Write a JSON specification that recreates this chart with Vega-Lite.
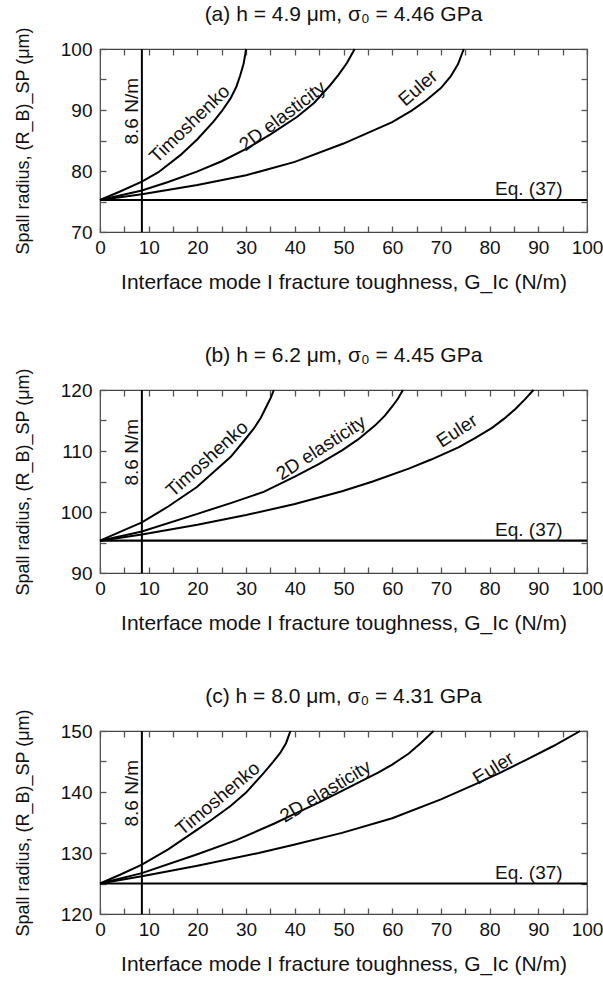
{
"$schema":"https://vega.github.io/schema/vega-lite/v6.json",
"padding":{"left":13,"top":3,"right":5,"bottom":5},
"datasets":{
"curves":[
{"panel":"a","model":"T","g":0,"r":75.25},{"panel":"a","model":"T","g":4,"r":76.6},{"panel":"a","model":"T","g":8.6,"r":78.25},{"panel":"a","model":"T","g":12,"r":79.8},{"panel":"a","model":"T","g":16.5,"r":82.6},{"panel":"a","model":"T","g":20,"r":85.2},{"panel":"a","model":"T","g":23.3,"r":88.1},{"panel":"a","model":"T","g":25,"r":89.8},{"panel":"a","model":"T","g":26.8,"r":91.9},{"panel":"a","model":"T","g":28,"r":93.8},{"panel":"a","model":"T","g":28.8,"r":95.7},{"panel":"a","model":"T","g":29.5,"r":97.6},{"panel":"a","model":"T","g":30,"r":100},
{"panel":"a","model":"D","g":0,"r":75.25},{"panel":"a","model":"D","g":8.6,"r":76.8},{"panel":"a","model":"D","g":14,"r":78.2},{"panel":"a","model":"D","g":19.9,"r":79.9},{"panel":"a","model":"D","g":25,"r":81.6},{"panel":"a","model":"D","g":30.2,"r":83.7},{"panel":"a","model":"D","g":35,"r":86.0},{"panel":"a","model":"D","g":40.5,"r":88.9},{"panel":"a","model":"D","g":44,"r":91.2},{"panel":"a","model":"D","g":47.3,"r":94.1},{"panel":"a","model":"D","g":49,"r":95.8},{"panel":"a","model":"D","g":50.7,"r":97.7},{"panel":"a","model":"D","g":52.3,"r":100},
{"panel":"a","model":"E","g":0,"r":75.25},{"panel":"a","model":"E","g":8.6,"r":76.2},{"panel":"a","model":"E","g":20,"r":77.7},{"panel":"a","model":"E","g":30,"r":79.3},{"panel":"a","model":"E","g":40,"r":81.5},{"panel":"a","model":"E","g":50,"r":84.5},{"panel":"a","model":"E","g":60,"r":88.0},{"panel":"a","model":"E","g":64,"r":89.9},{"panel":"a","model":"E","g":67,"r":91.6},{"panel":"a","model":"E","g":70,"r":93.6},{"panel":"a","model":"E","g":72,"r":95.5},{"panel":"a","model":"E","g":73.5,"r":97.5},{"panel":"a","model":"E","g":74.7,"r":100},
{"panel":"b","model":"T","g":0,"r":95.3},{"panel":"b","model":"T","g":4,"r":96.7},{"panel":"b","model":"T","g":8.6,"r":98.3},{"panel":"b","model":"T","g":14,"r":100.9},{"panel":"b","model":"T","g":19.9,"r":104.1},{"panel":"b","model":"T","g":23,"r":106.3},{"panel":"b","model":"T","g":26.8,"r":109.0},{"panel":"b","model":"T","g":29.5,"r":111.6},{"panel":"b","model":"T","g":31.6,"r":113.7},{"panel":"b","model":"T","g":33,"r":115.4},{"panel":"b","model":"T","g":34.3,"r":117.5},{"panel":"b","model":"T","g":35.1,"r":118.8},{"panel":"b","model":"T","g":35.7,"r":120},
{"panel":"b","model":"D","g":0,"r":95.3},{"panel":"b","model":"D","g":8.6,"r":96.8},{"panel":"b","model":"D","g":20,"r":99.7},{"panel":"b","model":"D","g":27,"r":101.5},{"panel":"b","model":"D","g":33.6,"r":103.3},{"panel":"b","model":"D","g":40,"r":105.8},{"panel":"b","model":"D","g":45,"r":107.9},{"panel":"b","model":"D","g":49.7,"r":110.1},{"panel":"b","model":"D","g":53,"r":111.9},{"panel":"b","model":"D","g":56.5,"r":114.2},{"panel":"b","model":"D","g":58.5,"r":115.8},{"panel":"b","model":"D","g":60,"r":117.3},{"panel":"b","model":"D","g":61.2,"r":118.6},{"panel":"b","model":"D","g":62.2,"r":120},
{"panel":"b","model":"E","g":0,"r":95.3},{"panel":"b","model":"E","g":8.6,"r":96.3},{"panel":"b","model":"E","g":20,"r":97.9},{"panel":"b","model":"E","g":30,"r":99.5},{"panel":"b","model":"E","g":40,"r":101.3},{"panel":"b","model":"E","g":49.7,"r":103.4},{"panel":"b","model":"E","g":56,"r":105.0},{"panel":"b","model":"E","g":63.4,"r":107.1},{"panel":"b","model":"E","g":68,"r":108.6},{"panel":"b","model":"E","g":73.6,"r":110.6},{"panel":"b","model":"E","g":77,"r":112.1},{"panel":"b","model":"E","g":80.5,"r":113.8},{"panel":"b","model":"E","g":83,"r":115.3},{"panel":"b","model":"E","g":85.3,"r":116.9},{"panel":"b","model":"E","g":87.3,"r":118.5},{"panel":"b","model":"E","g":89,"r":120},
{"panel":"c","model":"T","g":0,"r":125},{"panel":"c","model":"T","g":4,"r":126.4},{"panel":"c","model":"T","g":8.6,"r":128.1},{"panel":"c","model":"T","g":14,"r":130.6},{"panel":"c","model":"T","g":19.9,"r":133.8},{"panel":"c","model":"T","g":23,"r":135.5},{"panel":"c","model":"T","g":26.8,"r":137.7},{"panel":"c","model":"T","g":30,"r":139.9},{"panel":"c","model":"T","g":33.6,"r":143.1},{"panel":"c","model":"T","g":35.5,"r":144.9},{"panel":"c","model":"T","g":37,"r":146.4},{"panel":"c","model":"T","g":38.2,"r":148.0},{"panel":"c","model":"T","g":39.1,"r":150},
{"panel":"c","model":"D","g":0,"r":125},{"panel":"c","model":"D","g":8.6,"r":126.7},{"panel":"c","model":"D","g":20,"r":129.8},{"panel":"c","model":"D","g":28,"r":132.1},{"panel":"c","model":"D","g":35.7,"r":134.8},{"panel":"c","model":"D","g":39.4,"r":136.2},{"panel":"c","model":"D","g":45,"r":138.3},{"panel":"c","model":"D","g":50,"r":140.3},{"panel":"c","model":"D","g":57.2,"r":143.2},{"panel":"c","model":"D","g":60,"r":144.5},{"panel":"c","model":"D","g":63.4,"r":146.3},{"panel":"c","model":"D","g":66,"r":148.1},{"panel":"c","model":"D","g":68.5,"r":150},
{"panel":"c","model":"E","g":0,"r":125},{"panel":"c","model":"E","g":8.6,"r":126.2},{"panel":"c","model":"E","g":20,"r":127.9},{"panel":"c","model":"E","g":32.6,"r":130.0},{"panel":"c","model":"E","g":40,"r":131.4},{"panel":"c","model":"E","g":49.7,"r":133.3},{"panel":"c","model":"E","g":60,"r":135.7},{"panel":"c","model":"E","g":70,"r":138.8},{"panel":"c","model":"E","g":77.1,"r":141.3},{"panel":"c","model":"E","g":82,"r":143.1},{"panel":"c","model":"E","g":87.3,"r":145.2},{"panel":"c","model":"E","g":93,"r":147.5},{"panel":"c","model":"E","g":98.6,"r":150}
],
"refs":[{"panel":"a","g":8.6,"r":75.25},{"panel":"b","g":8.6,"r":95.3},{"panel":"c","g":8.6,"r":125.0}],
"labels":[
{"panel":"a","label":"Timoshenko","g":18.4,"r":87.7},{"panel":"a","label":"2D elasticity","g":37.5,"r":89.0},{"panel":"a","label":"Euler","g":65.3,"r":93.6},{"panel":"a","label":"Eq. (37)","g":95,"r":75.25},{"panel":"a","label":"8.6 N/m","g":8.6,"r":89.8},
{"panel":"b","label":"Timoshenko","g":22.0,"r":108.7},{"panel":"b","label":"2D elasticity","g":45.4,"r":110.5},{"panel":"b","label":"Euler","g":73.3,"r":113.3},{"panel":"b","label":"Eq. (37)","g":95,"r":95.3},{"panel":"b","label":"8.6 N/m","g":8.6,"r":109.8},
{"panel":"c","label":"Timoshenko","g":24.2,"r":138.9},{"panel":"c","label":"2D elasticity","g":46.3,"r":140.1},{"panel":"c","label":"Euler","g":80.8,"r":143.9},{"panel":"c","label":"Eq. (37)","g":95,"r":125.0},{"panel":"c","label":"8.6 N/m","g":8.6,"r":139.8}
]
},
"vconcat":[
{"width":487,"height":183,"title":"(a) h = 4.9 μm, σ₀ = 4.46 GPa",
"resolve":{"axis":{"x":"independent","y":"independent"}},
"layer":[
{"data":{"name":"curves"},"transform":[{"filter":"datum.panel==='a'"}],"mark":{"type":"line","color":"black","strokeWidth":2},
"encoding":{"x":{"field":"g","type":"quantitative","scale":{"domain":[0,100],"nice":false,"zero":false},"axis":{"orient":"bottom","values":[0,5,10,15,20,25,30,35,40,45,50,55,60,65,70,75,80,85,90,95,100],"labelExpr":"datum.value % 10 === 0 ? datum.label : ''","title":"Interface mode I fracture toughness, G_Ic (N/m)"}},
"y":{"field":"r","type":"quantitative","scale":{"domain":[70,100],"nice":false,"zero":false},"axis":{"orient":"left","values":[70,75,80,85,90,95,100],"labelExpr":"datum.value % 10 === 0 ? datum.label : ''","title":"Spall radius, (R_B)_SP (μm)"}},
"detail":{"field":"model"}}},
{"data":{"name":"refs"},"transform":[{"filter":"datum.panel==='a'"}],"mark":{"type":"rule","color":"black","strokeWidth":2},
"encoding":{"x":{"field":"g","type":"quantitative","scale":{"domain":[0,100],"nice":false,"zero":false},"axis":{"orient":"top","values":[0,5,10,15,20,25,30,35,40,45,50,55,60,65,70,75,80,85,90,95,100],"labels":false,"title":null}}}},
{"data":{"name":"refs"},"transform":[{"filter":"datum.panel==='a'"}],"mark":{"type":"rule","color":"black","strokeWidth":2.2},
"encoding":{"y":{"field":"r","type":"quantitative","scale":{"domain":[70,100],"nice":false,"zero":false},"axis":{"orient":"right","values":[70,75,80,85,90,95,100],"labels":false,"title":null}}}},
{"data":{"name":"labels"},"transform":[{"filter":"datum.panel==='a' && datum.label==='Timoshenko'"}],"mark":{"type":"text","angle":316,"align":"center","baseline":"middle"},
"encoding":{"x":{"field":"g","type":"quantitative","scale":{"domain":[0,100],"nice":false,"zero":false},"axis":null},"y":{"field":"r","type":"quantitative","scale":{"domain":[70,100],"nice":false,"zero":false},"axis":null},"text":{"field":"label"}}},
{"data":{"name":"labels"},"transform":[{"filter":"datum.panel==='a' && datum.label==='2D elasticity'"}],"mark":{"type":"text","angle":323,"align":"center","baseline":"middle"},
"encoding":{"x":{"field":"g","type":"quantitative","scale":{"domain":[0,100],"nice":false,"zero":false},"axis":null},"y":{"field":"r","type":"quantitative","scale":{"domain":[70,100],"nice":false,"zero":false},"axis":null},"text":{"field":"label"}}},
{"data":{"name":"labels"},"transform":[{"filter":"datum.panel==='a' && datum.label==='Euler'"}],"mark":{"type":"text","angle":319,"align":"center","baseline":"middle"},
"encoding":{"x":{"field":"g","type":"quantitative","scale":{"domain":[0,100],"nice":false,"zero":false},"axis":null},"y":{"field":"r","type":"quantitative","scale":{"domain":[70,100],"nice":false,"zero":false},"axis":null},"text":{"field":"label"}}},
{"data":{"name":"labels"},"transform":[{"filter":"datum.panel==='a' && datum.label==='Eq. (37)'"}],"mark":{"type":"text","align":"right","baseline":"alphabetic","dy":-5},
"encoding":{"x":{"field":"g","type":"quantitative","scale":{"domain":[0,100],"nice":false,"zero":false},"axis":null},"y":{"field":"r","type":"quantitative","scale":{"domain":[70,100],"nice":false,"zero":false},"axis":null},"text":{"field":"label"}}},
{"data":{"name":"labels"},"transform":[{"filter":"datum.panel==='a' && datum.label==='8.6 N/m'"}],"mark":{"type":"text","angle":270,"align":"center","baseline":"alphabetic","dy":-4},
"encoding":{"x":{"field":"g","type":"quantitative","scale":{"domain":[0,100],"nice":false,"zero":false},"axis":null},"y":{"field":"r","type":"quantitative","scale":{"domain":[70,100],"nice":false,"zero":false},"axis":null},"text":{"field":"label"}}}
]},
{"width":487,"height":183,"title":"(b) h = 6.2 μm, σ₀ = 4.45 GPa",
"resolve":{"axis":{"x":"independent","y":"independent"}},
"layer":[
{"data":{"name":"curves"},"transform":[{"filter":"datum.panel==='b'"}],"mark":{"type":"line","color":"black","strokeWidth":2},
"encoding":{"x":{"field":"g","type":"quantitative","scale":{"domain":[0,100],"nice":false,"zero":false},"axis":{"orient":"bottom","values":[0,5,10,15,20,25,30,35,40,45,50,55,60,65,70,75,80,85,90,95,100],"labelExpr":"datum.value % 10 === 0 ? datum.label : ''","title":"Interface mode I fracture toughness, G_Ic (N/m)"}},
"y":{"field":"r","type":"quantitative","scale":{"domain":[90,120],"nice":false,"zero":false},"axis":{"orient":"left","values":[90,95,100,105,110,115,120],"labelExpr":"datum.value % 10 === 0 ? datum.label : ''","title":"Spall radius, (R_B)_SP (μm)"}},
"detail":{"field":"model"}}},
{"data":{"name":"refs"},"transform":[{"filter":"datum.panel==='b'"}],"mark":{"type":"rule","color":"black","strokeWidth":2},
"encoding":{"x":{"field":"g","type":"quantitative","scale":{"domain":[0,100],"nice":false,"zero":false},"axis":{"orient":"top","values":[0,5,10,15,20,25,30,35,40,45,50,55,60,65,70,75,80,85,90,95,100],"labels":false,"title":null}}}},
{"data":{"name":"refs"},"transform":[{"filter":"datum.panel==='b'"}],"mark":{"type":"rule","color":"black","strokeWidth":2.2},
"encoding":{"y":{"field":"r","type":"quantitative","scale":{"domain":[90,120],"nice":false,"zero":false},"axis":{"orient":"right","values":[90,95,100,105,110,115,120],"labels":false,"title":null}}}},
{"data":{"name":"labels"},"transform":[{"filter":"datum.panel==='b' && datum.label==='Timoshenko'"}],"mark":{"type":"text","angle":318,"align":"center","baseline":"middle"},
"encoding":{"x":{"field":"g","type":"quantitative","scale":{"domain":[0,100],"nice":false,"zero":false},"axis":null},"y":{"field":"r","type":"quantitative","scale":{"domain":[90,120],"nice":false,"zero":false},"axis":null},"text":{"field":"label"}}},
{"data":{"name":"labels"},"transform":[{"filter":"datum.panel==='b' && datum.label==='2D elasticity'"}],"mark":{"type":"text","angle":327,"align":"center","baseline":"middle"},
"encoding":{"x":{"field":"g","type":"quantitative","scale":{"domain":[0,100],"nice":false,"zero":false},"axis":null},"y":{"field":"r","type":"quantitative","scale":{"domain":[90,120],"nice":false,"zero":false},"axis":null},"text":{"field":"label"}}},
{"data":{"name":"labels"},"transform":[{"filter":"datum.panel==='b' && datum.label==='Euler'"}],"mark":{"type":"text","angle":327,"align":"center","baseline":"middle"},
"encoding":{"x":{"field":"g","type":"quantitative","scale":{"domain":[0,100],"nice":false,"zero":false},"axis":null},"y":{"field":"r","type":"quantitative","scale":{"domain":[90,120],"nice":false,"zero":false},"axis":null},"text":{"field":"label"}}},
{"data":{"name":"labels"},"transform":[{"filter":"datum.panel==='b' && datum.label==='Eq. (37)'"}],"mark":{"type":"text","align":"right","baseline":"alphabetic","dy":-5},
"encoding":{"x":{"field":"g","type":"quantitative","scale":{"domain":[0,100],"nice":false,"zero":false},"axis":null},"y":{"field":"r","type":"quantitative","scale":{"domain":[90,120],"nice":false,"zero":false},"axis":null},"text":{"field":"label"}}},
{"data":{"name":"labels"},"transform":[{"filter":"datum.panel==='b' && datum.label==='8.6 N/m'"}],"mark":{"type":"text","angle":270,"align":"center","baseline":"alphabetic","dy":-4},
"encoding":{"x":{"field":"g","type":"quantitative","scale":{"domain":[0,100],"nice":false,"zero":false},"axis":null},"y":{"field":"r","type":"quantitative","scale":{"domain":[90,120],"nice":false,"zero":false},"axis":null},"text":{"field":"label"}}}
]},
{"width":487,"height":183,"title":"(c) h = 8.0 μm, σ₀ = 4.31 GPa",
"resolve":{"axis":{"x":"independent","y":"independent"}},
"layer":[
{"data":{"name":"curves"},"transform":[{"filter":"datum.panel==='c'"}],"mark":{"type":"line","color":"black","strokeWidth":2},
"encoding":{"x":{"field":"g","type":"quantitative","scale":{"domain":[0,100],"nice":false,"zero":false},"axis":{"orient":"bottom","values":[0,5,10,15,20,25,30,35,40,45,50,55,60,65,70,75,80,85,90,95,100],"labelExpr":"datum.value % 10 === 0 ? datum.label : ''","title":"Interface mode I fracture toughness, G_Ic (N/m)"}},
"y":{"field":"r","type":"quantitative","scale":{"domain":[120,150],"nice":false,"zero":false},"axis":{"orient":"left","values":[120,125,130,135,140,145,150],"labelExpr":"datum.value % 10 === 0 ? datum.label : ''","title":"Spall radius, (R_B)_SP (μm)"}},
"detail":{"field":"model"}}},
{"data":{"name":"refs"},"transform":[{"filter":"datum.panel==='c'"}],"mark":{"type":"rule","color":"black","strokeWidth":2},
"encoding":{"x":{"field":"g","type":"quantitative","scale":{"domain":[0,100],"nice":false,"zero":false},"axis":{"orient":"top","values":[0,5,10,15,20,25,30,35,40,45,50,55,60,65,70,75,80,85,90,95,100],"labels":false,"title":null}}}},
{"data":{"name":"refs"},"transform":[{"filter":"datum.panel==='c'"}],"mark":{"type":"rule","color":"black","strokeWidth":2.2},
"encoding":{"y":{"field":"r","type":"quantitative","scale":{"domain":[120,150],"nice":false,"zero":false},"axis":{"orient":"right","values":[120,125,130,135,140,145,150],"labels":false,"title":null}}}},
{"data":{"name":"labels"},"transform":[{"filter":"datum.panel==='c' && datum.label==='Timoshenko'"}],"mark":{"type":"text","angle":320,"align":"center","baseline":"middle"},
"encoding":{"x":{"field":"g","type":"quantitative","scale":{"domain":[0,100],"nice":false,"zero":false},"axis":null},"y":{"field":"r","type":"quantitative","scale":{"domain":[120,150],"nice":false,"zero":false},"axis":null},"text":{"field":"label"}}},
{"data":{"name":"labels"},"transform":[{"filter":"datum.panel==='c' && datum.label==='2D elasticity'"}],"mark":{"type":"text","angle":329,"align":"center","baseline":"middle"},
"encoding":{"x":{"field":"g","type":"quantitative","scale":{"domain":[0,100],"nice":false,"zero":false},"axis":null},"y":{"field":"r","type":"quantitative","scale":{"domain":[120,150],"nice":false,"zero":false},"axis":null},"text":{"field":"label"}}},
{"data":{"name":"labels"},"transform":[{"filter":"datum.panel==='c' && datum.label==='Euler'"}],"mark":{"type":"text","angle":328,"align":"center","baseline":"middle"},
"encoding":{"x":{"field":"g","type":"quantitative","scale":{"domain":[0,100],"nice":false,"zero":false},"axis":null},"y":{"field":"r","type":"quantitative","scale":{"domain":[120,150],"nice":false,"zero":false},"axis":null},"text":{"field":"label"}}},
{"data":{"name":"labels"},"transform":[{"filter":"datum.panel==='c' && datum.label==='Eq. (37)'"}],"mark":{"type":"text","align":"right","baseline":"alphabetic","dy":-5},
"encoding":{"x":{"field":"g","type":"quantitative","scale":{"domain":[0,100],"nice":false,"zero":false},"axis":null},"y":{"field":"r","type":"quantitative","scale":{"domain":[120,150],"nice":false,"zero":false},"axis":null},"text":{"field":"label"}}},
{"data":{"name":"labels"},"transform":[{"filter":"datum.panel==='c' && datum.label==='8.6 N/m'"}],"mark":{"type":"text","angle":270,"align":"center","baseline":"alphabetic","dy":-4},
"encoding":{"x":{"field":"g","type":"quantitative","scale":{"domain":[0,100],"nice":false,"zero":false},"axis":null},"y":{"field":"r","type":"quantitative","scale":{"domain":[120,150],"nice":false,"zero":false},"axis":null},"text":{"field":"label"}}}
]}
],
"config":{
"font":"Liberation Sans",
"view":{"stroke":"#444","strokeWidth":1.2},
"concat":{"spacing":51},
"axis":{"grid":false,"domain":false,"ticks":true,"zindex":1,"offset":-6,"tickSize":6,"tickColor":"#555","tickWidth":1.3,"tickOpacity":1,"labelFont":"Liberation Sans","labelFontSize":19,"labelColor":"#111","labelFlush":false,"labelOverlap":false,"titleFont":"Liberation Sans","titleFontWeight":"normal","titleColor":"#111"},
"axisX":{"labelPadding":6,"titlePadding":14,"titleFontSize":21},
"axisY":{"labelPadding":8,"titlePadding":28,"titleFontSize":18},
"title":{"font":"Liberation Sans","fontSize":21,"fontWeight":"normal","color":"#111","offset":2,"frame":"group"},
"text":{"font":"Liberation Sans","fontSize":19,"color":"#111"}
}
}
